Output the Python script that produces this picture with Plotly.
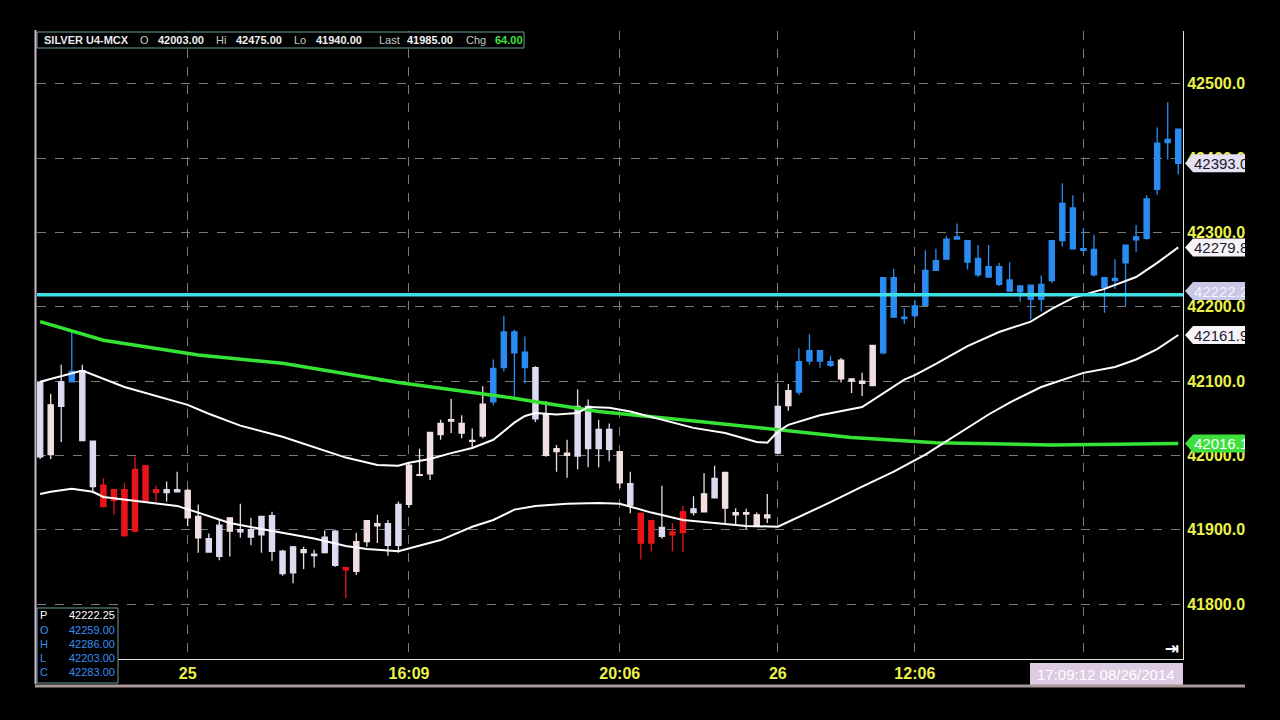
import plotly.graph_objects as go

# ---------------- data ----------------
opens = [42098, 42001, 42066, 42099, 42020, 42019, 41960, 41954, 41954, 41898,
         41938, 41950, 41950, 41951, 41953, 41918, 41888, 41906, 41898, 41900,
         41900, 41918, 41919, 41871, 41877, 41869, 41867, 41869, 41898, 41849,
         41844, 41884, 41905, 41908, 41879, 41934, 41973, 41975, 42028, 42046,
         42043, 42020, 42026, 42072, 42118, 42166, 42139, 42118, 42055, 42009,
         42003, 42066, 42066, 42035, 42035, 42005, 41962, 41922, 41912, 41903,
         41897, 41924, 41928, 41948, 41969, 41977, 41923, 41923, 41920, 41920,
         42003, 42067, 42085, 42127, 42141, 42126, 42128, 42103, 42100, 42094,
         42138, 42239, 42186, 42188, 42202, 42249, 42264, 42291, 42289, 42265,
         42240, 42254, 42236, 42228, 42229, 42210, 42235, 42289, 42333, 42278,
         42277, 42239, 42238, 42259, 42290, 42292, 42358, 42421, 42439]
highs = [42100, 42083, 42122, 42169, 42122, 42020, 41969, 41954, 41963, 41998,
         41986, 41959, 41965, 41978, 41955, 41934, 41895, 41914, 41916, 41935,
         41916, 41918, 41924, 41873, 41878, 41877, 41873, 41899, 41900, 41850,
         41896, 41912, 41920, 41913, 41938, 41990, 42009, 42031, 42048, 42076,
         42054, 42036, 42093, 42129, 42188, 42169, 42160, 42120, 42073, 42014,
         42021, 42089, 42075, 42048, 42043, 42006, 41978, 41923, 41913, 41959,
         41909, 41932, 41945, 41976, 41986, 41977, 41929, 41928, 41923, 41948,
         42097, 42096, 42144, 42163, 42141, 42134, 42131, 42103, 42111, 42148,
         42240, 42251, 42198, 42209, 42276, 42278, 42295, 42312, 42289, 42283,
         42283, 42259, 42260, 42228, 42229, 42242, 42289, 42366, 42350, 42306,
         42297, 42239, 42264, 42283, 42310, 42350, 42441, 42475, 42439]
lows = [41995, 41995, 42018, 42098, 42019, 41949, 41930, 41920, 41890, 41897,
        41937, 41938, 41938, 41950, 41905, 41869, 41869, 41859, 41864, 41889,
        41879, 41869, 41858, 41838, 41828, 41847, 41849, 41868, 41850, 41808,
        41839, 41877, 41882, 41865, 41869, 41930, 41972, 41967, 42021, 42030,
        42023, 42009, 42023, 42067, 42113, 42079, 42097, 42045, 41998, 41978,
        41970, 41981, 41984, 41984, 41992, 41956, 41922, 41860, 41871, 41888,
        41871, 41870, 41919, 41923, 41943, 41909, 41906, 41901, 41905, 41909,
        42001, 42060, 42081, 42122, 42118, 42119, 42098, 42084, 42080, 42093,
        42136, 42186, 42177, 42184, 42202, 42249, 42264, 42291, 42250, 42240,
        42240, 42228, 42221, 42207, 42183, 42194, 42232, 42281, 42278, 42272,
        42241, 42192, 42224, 42201, 42274, 42290, 42351, 42398, 42378]
closes = [41998, 42068, 42099, 42113, 42114, 41958, 41931, 41939, 41892, 41981,
          41986, 41954, 41954, 41954, 41916, 41889, 41870, 41864, 41916, 41897,
          41890, 41893, 41871, 41841, 41842, 41873, 41865, 41890, 41852, 41846,
          41884, 41912, 41908, 41879, 41934, 41987, 41974, 42031, 42043, 42048,
          42030, 42019, 42069, 42117, 42166, 42138, 42118, 42049, 42000, 42005,
          42000, 41999, 42009, 42009, 42008, 41963, 41933, 41882, 41882, 41891,
          41893, 41896, 41923, 41924, 41943, 41929, 41920, 41921, 41905, 41916,
          42066, 42087, 42126, 42141, 42127, 42121, 42103, 42100, 42097, 42148,
          42239, 42186, 42184, 42201, 42249, 42262, 42291, 42294, 42260, 42243,
          42254, 42230, 42221, 42220, 42210, 42230, 42289, 42339, 42278, 42276,
          42243, 42226, 42235, 42283, 42294, 42345, 42420, 42425, 42393]
# colour class of every bar: w = lavender, p = pinkish white, r = red, b = blue
bar_class = list(
    "wpwbwwrrrrrrwwppwwpwwwwwwpwwwrpppwwppppppppbbbbwpppwwwwpwrrwrrwpwpppppwpbbbbppppbbbbbbbbbbbbbbbbbbbbbbbbbbbbb"
)

# moving averages (bar index, price)
ma_fast_idx = [0, 3, 4, 8, 11, 14, 16, 19, 23, 26, 29, 32, 34, 35, 37, 39, 41, 43, 44, 45, 46, 47,
               49, 51, 52, 54, 56, 59, 62, 65, 68, 69, 70, 71, 74, 78, 80, 82, 83, 85, 88, 91,
               94, 96, 98, 101, 104, 106, 108]
ma_fast_val = [42099, 42111, 42114, 42092, 42080, 42068, 42056, 42040, 42025, 42011, 41997, 41987,
               41986, 41990, 41995, 42003, 42010, 42021, 42032, 42044, 42053, 42057, 42055, 42057,
               42065, 42064, 42059, 42048, 42037, 42030, 42018, 42017, 42032, 42041, 42054, 42065,
               42084, 42102, 42108, 42123, 42147, 42166, 42180, 42197, 42212, 42224, 42240, 42259,
               42279.8]
ma_mid_idx = [0, 1, 3, 5, 6, 9, 12, 13, 15, 18, 21, 23, 26, 29, 31, 34, 35, 38, 41, 43, 45, 47,
              50, 53, 55, 56, 58, 61, 64, 67, 70, 72, 75, 78, 81, 84, 87, 90, 92, 95, 99, 102,
              104, 106, 108]
ma_mid_val = [41948, 41951, 41955, 41951, 41944, 41939, 41933, 41932, 41923, 41909, 41901, 41896,
              41888, 41878, 41874, 41871, 41875, 41886, 41904, 41913, 41927, 41932, 41935, 41936,
              41935, 41931, 41923, 41913, 41909, 41905, 41904, 41917, 41937, 41958, 41978, 42001,
              42028, 42055, 42071, 42092, 42111, 42119, 42129, 42143, 42161.9]
ma_slow_idx = [0, 6, 15, 23, 34, 44, 47, 53, 63, 70, 77, 85, 96, 108]
ma_slow_val = [42180, 42155, 42135, 42124, 42098, 42079, 42072, 42059, 42045, 42034, 42024, 42017,
               42014, 42016.1]
pivot_level = 42216
pivot_text = "42222.25"

tick_idx = [14, 35, 55, 70, 83, 99]
tick_text = ["25", "16:09", "20:06", "26", "12:06", ""]

symbol = "SILVER U4-MCX"
hdr_open, hdr_hi, hdr_lo, hdr_last, hdr_chg = 42003.00, 42475.00, 41940.00, 41985.00, 64.00
box_labels = ["P", "O", "H", "L", "C"]
box_values = [42222.25, 42259.00, 42286.00, 42203.00, 42283.00]
date_text = "17:09:12 08/26/2014"

# ---------------- styling ----------------
COL = {"w": "#dedaf0", "p": "#f2dfe0", "r": "#e8141a", "b": "#2a8cf0"}
YEL = "#eaf24a"
FONT = "Liberation Sans, Arial, sans-serif"
PL, PR, PT, PB = 37, 1183, 31, 659
Y0, Y1 = 41726, 42571
PXU = (PB - PT) / (Y1 - Y0)  # pixels per price unit


def fx(px):
    return (px - PL) / (PR - PL)


def fy(py):
    return (PB - py) / (PB - PT)


fig = go.Figure()
for cls in ["w", "p", "r", "b"]:
    ids = [i for i, c in enumerate(bar_class) if c == cls]
    fig.add_trace(go.Candlestick(
        x=ids,
        open=[opens[i] for i in ids], high=[highs[i] for i in ids],
        low=[lows[i] for i in ids], close=[closes[i] for i in ids],
        increasing=dict(line=dict(color=COL[cls], width=1.3), fillcolor=COL[cls]),
        decreasing=dict(line=dict(color=COL[cls], width=1.3), fillcolor=COL[cls]),
        whiskerwidth=0, showlegend=False, hoverinfo="skip",
    ))

fig.add_trace(go.Scatter(x=ma_slow_idx, y=ma_slow_val, mode="lines",
                         line=dict(color="#35e335", width=3.5), showlegend=False, hoverinfo="skip"))
fig.add_trace(go.Scatter(x=ma_fast_idx, y=ma_fast_val, mode="lines",
                         line=dict(color="#ffffff", width=2), showlegend=False, hoverinfo="skip"))
fig.add_trace(go.Scatter(x=ma_mid_idx, y=ma_mid_val, mode="lines",
                         line=dict(color="#ffffff", width=2), showlegend=False, hoverinfo="skip"))

shapes = []
annotations = []

# pivot line
shapes.append(dict(type="line", xref="paper", yref="y", x0=0, x1=1, y0=pivot_level, y1=pivot_level,
                   line=dict(color="#3fe0e6", width=3.5), layer="above"))

# right-side price tags
tags = [
    (closes[-1], "%.1f" % closes[-1], "#e6e0f2", "#1a1a2a"),
    (ma_fast_val[-1], "%.1f" % ma_fast_val[-1], "#f6f4f8", "#1a1a2a"),
    (pivot_level + 5, pivot_text, "#c9c6e6", "#f4f4ff"),
    (ma_mid_val[-1], "%.1f" % ma_mid_val[-1], "#f6f4f8", "#1a1a2a"),
    (ma_slow_val[-1], "%.1f" % ma_slow_val[-1], "#3ee03e", "#ffffff"),
]
h = 9 / PXU
for val, txt, bg, fg in tags:
    xt, xa, xb = fx(1185), fx(1193), fx(1245)
    path = (f"M {xt},{val} L {xa},{val + h} L {xb},{val + h} "
            f"L {xb},{val - h} L {xa},{val - h} Z")
    shapes.append(dict(type="path", xref="paper", yref="y", path=path,
                       fillcolor=bg, line=dict(width=0), layer="above"))
    annotations.append(dict(xref="paper", yref="y", x=fx(1193), y=val, xanchor="left",
                            yanchor="middle", text=txt, showarrow=False, width=51, align="left",
                            font=dict(family=FONT, size=15, color=fg), borderpad=0))

# header box
shapes.append(dict(type="rect", xref="paper", yref="paper", x0=fx(37), x1=fx(524), y0=fy(48),
                   y1=fy(32), fillcolor="#000000", line=dict(color="#6f9c9c", width=1), layer="above"))
hdr = [
    (42, symbol, "#e8e8f0", True),
    (138, "O", "#c8c8c8", False), (156, "%.2f" % hdr_open, "#f0f0f0", True),
    (214, "Hi", "#c8c8c8", False), (234, "%.2f" % hdr_hi, "#f0f0f0", True),
    (292, "Lo", "#c8c8c8", False), (314, "%.2f" % hdr_lo, "#f0f0f0", True),
    (377, "Last", "#c8c8c8", False), (405, "%.2f" % hdr_last, "#f0f0f0", True),
    (464, "Chg", "#c8c8c8", False), (493, "%.2f" % hdr_chg, "#3ee03e", True),
]
for px, txt, col, bold in hdr:
    annotations.append(dict(xref="paper", yref="paper", x=fx(px), y=fy(40), xanchor="left",
                            yanchor="middle", text=("<b>%s</b>" % txt) if bold else txt,
                            showarrow=False, font=dict(family=FONT, size=11, color=col)))

# bottom-left data box
shapes.append(dict(type="rect", xref="paper", yref="paper", x0=fx(37), x1=fx(118), y0=fy(683),
                   y1=fy(608), fillcolor="#000000", line=dict(color="#6f9c9c", width=1), layer="above"))
row_y = [615, 630, 644, 658, 672]
for lab, val, py in zip(box_labels, box_values, row_y):
    col = "#ffffff" if lab == "P" else "#3a8ef2"
    annotations.append(dict(xref="paper", yref="paper", x=fx(38), y=fy(py), xanchor="left",
                            yanchor="middle", text=lab, showarrow=False,
                            font=dict(family=FONT, size=11, color=col)))
    annotations.append(dict(xref="paper", yref="paper", x=fx(117), y=fy(py), xanchor="right",
                            yanchor="middle", text="%.2f" % val, showarrow=False,
                            font=dict(family=FONT, size=11, color=col)))

# date box
shapes.append(dict(type="rect", xref="paper", yref="paper", x0=fx(1030), x1=fx(1183), y0=fy(685),
                   y1=fy(663), fillcolor="#dccbe2", line=dict(width=0), layer="above"))
annotations.append(dict(xref="paper", yref="paper", x=fx(1106), y=fy(674), xanchor="center",
                        yanchor="middle", text=date_text, showarrow=False,
                        font=dict(family=FONT, size=15, color="#ffffff")))
# jump-to-end icon
annotations.append(dict(xref="paper", yref="paper", x=fx(1172), y=fy(648), xanchor="center",
                        yanchor="middle", text="<b>⇥</b>", showarrow=False,
                        font=dict(family="DejaVu Sans", size=17, color="#ffffff")))

# frame decorations
shapes.append(dict(type="line", xref="paper", yref="paper", x0=fx(35.5), x1=fx(35.5), y0=fy(684),
                   y1=fy(30), line=dict(color="#c8b8d0", width=2), layer="above"))
shapes.append(dict(type="line", xref="paper", yref="paper", x0=fx(35), x1=fx(1245), y0=fy(686),
                   y1=fy(686), line=dict(color="#a89898", width=3), layer="above"))

fig.update_layout(
    width=1280, height=720,
    margin=dict(l=PL, r=1280 - PR, t=PT, b=720 - PB),
    paper_bgcolor="#000000", plot_bgcolor="#000000",
    showlegend=False, shapes=shapes, annotations=annotations,
    xaxis=dict(range=[-0.3, 108.45], tickmode="array", tickvals=tick_idx, ticktext=tick_text,
               showgrid=True, gridcolor="#7a7a7a", griddash="dash", gridwidth=1,
               zeroline=False, showline=True, linecolor="#e0e0e0", linewidth=1,
               tickfont=dict(family=FONT, size=16, color=YEL, weight="bold"),
               rangeslider=dict(visible=False), fixedrange=True),
    yaxis=dict(range=[Y0, Y1], side="right", dtick=100, tick0=41800, tickformat=".1f",
               showgrid=True, gridcolor="#7a7a7a", griddash="dash", gridwidth=1,
               zeroline=False, showline=True, linecolor="#e0e0e0", linewidth=1,
               tickfont=dict(family=FONT, size=16, color=YEL, weight="bold"), fixedrange=True),
)

fig.write_html("out.html")
